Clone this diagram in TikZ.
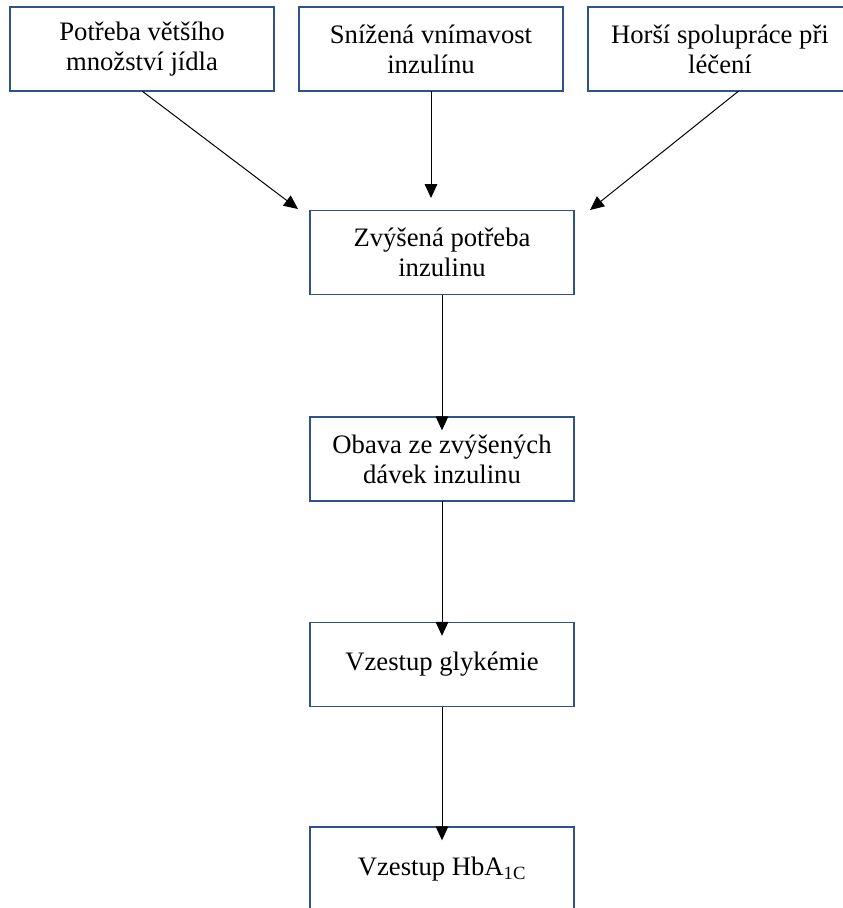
\documentclass[tikz,border=0pt]{standalone}
\usepackage{fontspec}
\setmainfont{Liberation Serif}
\usetikzlibrary{arrows.meta}
\definecolor{boxblue}{RGB}{47,82,143}

\begin{document}
\begin{tikzpicture}[x=0.75pt,y=0.75pt,yscale=-1,xscale=1,
  box/.style={draw=boxblue, line width=1pt, minimum width=198pt, minimum height=63pt,
    inner sep=0pt, outer sep=0pt, align=center, font=\fontsize{20}{22.5}\selectfont},
  arr/.style={-{Triangle[length=10.5pt,width=9.5pt]}, line width=0.75pt}]
%set diagram size 843 x 908
\clip (0,0) rectangle (843,908);

%Shape: Rectangle (top row)
\node[box] (need1) at (142,49) {Potřeba většího\\množství jídla};
\node[box] (need2) at (431,49) {Snížená vnímavost\\inzulínu};
\node[box] (need3) at (720,49) {Horší spolupráce při\\léčení};
%Shape: Rectangle (middle column)
\node[box] (dose) at (442,252.5) {Zvýšená potřeba\\inzulinu};
\node[box] (fear) at (442,459) {Obava ze zvýšených\\dávek inzulinu};
\node[box] (gly) at (442,664.5) {Vzestup glykémie};
\node[box] (hba) at (442,869) {Vzestup HbA\textsubscript{1C}};

%Straight Lines
\coordinate (tipL) at (298,209);
\coordinate (tipM) at (431,198);
\coordinate (tipR) at (590,210);
\draw[arr] (need1.south) -- (tipL);
\draw[arr] (need2.south) -- (tipM);
\draw[arr] ([xshift=14pt]need3.south) -- (tipR);
\draw[arr] (dose.south) -- ([yshift=10pt]fear.north);
\draw[arr] (fear.south) -- ([yshift=10pt]gly.north);
\draw[arr] (gly.south) -- ([yshift=10pt]hba.north);

\end{tikzpicture}
\end{document}
